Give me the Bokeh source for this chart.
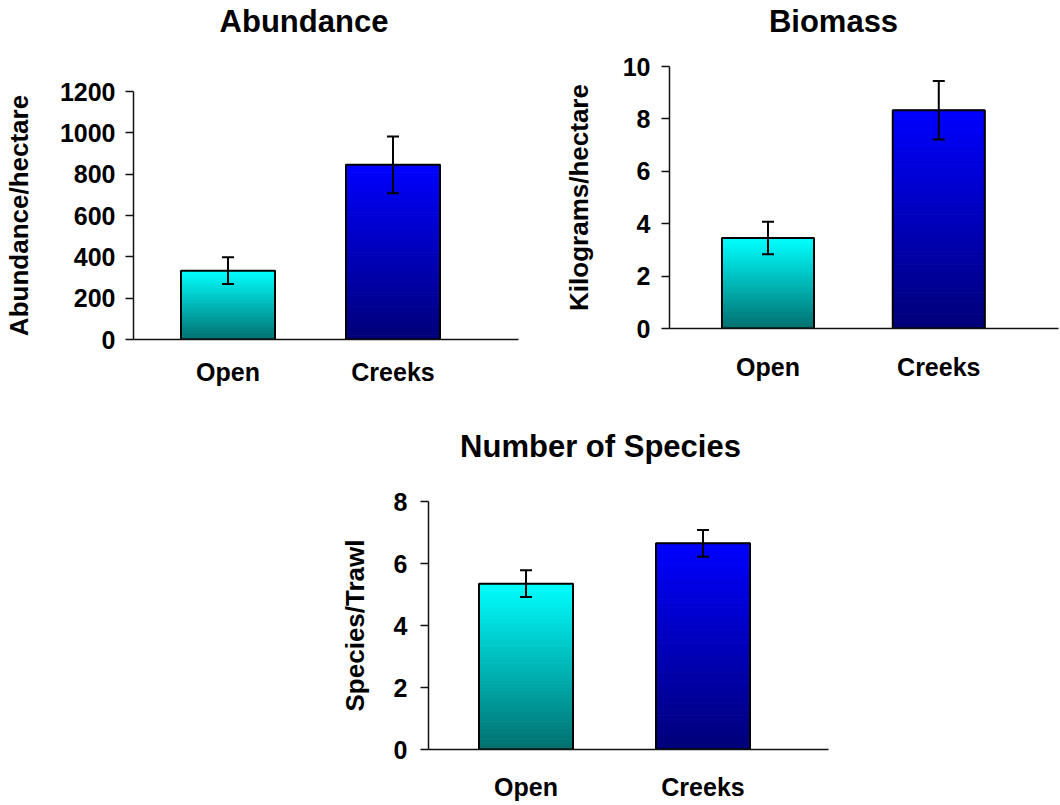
from bokeh.plotting import figure
from bokeh.models import ColumnDataSource, Whisker, TeeHead, FixedTicker, Label, Range1d, Spacer
from bokeh.layouts import column, row
from bokeh.embed import file_html
from bokeh.resources import INLINE

# ---- data ----
categories = ["Open", "Creeks"]

abundance_mean = [333, 845]
abundance_err = [65, 137]

biomass_mean = [3.45, 8.33]
biomass_err = [0.62, 1.12]

species_mean = [5.35, 6.65]
species_err = [0.43, 0.43]

abundance_ticks = [0, 200, 400, 600, 800, 1000, 1200]
biomass_ticks = [0, 2, 4, 6, 8, 10]
species_ticks = [0, 2, 4, 6, 8]

# ---- style ----
FONT = "Liberation Sans"
TOP_COLORS = [(0, 255, 255), (0, 0, 255)]
BOTTOM_COLORS = [(0, 110, 110), (0, 0, 120)]
N_SLICES = 48
AXIS_COLOR = "#111111"


def hexc(c):
    return "#%02x%02x%02x" % c


def make_title(text, *, width, height, cx, base):
    t = figure(width=width, height=height, output_backend="svg", toolbar_location=None,
               x_range=Range1d(0, 1), y_range=Range1d(0, 1), min_border=0)
    t.frame_align = False
    t.axis.visible = False
    t.grid.visible = False
    t.outline_line_color = None
    t.background_fill_color = "white"
    t.border_fill_color = "white"
    t.add_layout(Label(x=cx, y=base, x_units="screen", y_units="screen",
                       text=text, text_align="center", text_baseline="alphabetic",
                       text_font=FONT, text_font_style="bold", text_font_size="31px",
                       text_color="black"))
    return t


def make_chart(ylabel, means, errs, ticks, *, width, height, borders,
               x_start, x_end, bar_w, tick_standoff, cat_standoff, label_standoff):
    left, right, top, bottom = borders
    p = figure(width=width, height=height, output_backend="svg", toolbar_location=None,
               x_range=Range1d(x_start, x_end), y_range=Range1d(0, ticks[-1]),
               min_border_left=left, min_border_right=right,
               min_border_top=top, min_border_bottom=bottom)
    p.frame_align = False
    xs = list(range(1, len(categories) + 1))

    # gradient-filled bars built from thin slices of each bar
    lefts, rights, bots, tops, cols = [], [], [], [], []
    for i, (x, v) in enumerate(zip(xs, means)):
        for k in range(N_SLICES):
            t = (k + 0.5) / N_SLICES
            c = tuple(int(round(b + (tc - b) * t))
                      for b, tc in zip(BOTTOM_COLORS[i], TOP_COLORS[i]))
            lefts.append(x - bar_w / 2)
            rights.append(x + bar_w / 2)
            bots.append(v * k / N_SLICES)
            tops.append(v * (k + 1) / N_SLICES)
            cols.append(hexc(c))
    p.quad(left=lefts, right=rights, bottom=bots, top=tops,
           fill_color=cols, line_color=cols, line_width=1)
    p.quad(left=[x - bar_w / 2 for x in xs], right=[x + bar_w / 2 for x in xs],
           bottom=[0] * len(xs), top=means,
           fill_color=None, line_color="black", line_width=2)

    src = ColumnDataSource(dict(
        x=xs,
        upper=[m + e for m, e in zip(means, errs)],
        lower=[m - e for m, e in zip(means, errs)],
    ))
    w = Whisker(base="x", upper="upper", lower="lower", source=src, level="overlay",
                line_width=2, line_color="black",
                upper_head=TeeHead(size=12, line_width=2, line_color="black"),
                lower_head=TeeHead(size=12, line_width=2, line_color="black"))
    p.add_layout(w)

    # axes
    p.xaxis.ticker = FixedTicker(ticks=xs)
    p.xaxis.major_label_overrides = {x: c for x, c in zip(xs, categories)}
    p.xaxis.major_tick_line_color = None
    p.xaxis.minor_tick_line_color = None
    p.xaxis.axis_line_color = AXIS_COLOR
    p.xaxis.axis_line_width = 1.5
    p.xaxis.major_label_text_font = FONT
    p.xaxis.major_label_text_font_style = "bold"
    p.xaxis.major_label_text_font_size = "25px"
    p.xaxis.major_label_text_color = "black"
    p.xaxis.major_label_standoff = cat_standoff

    p.yaxis.ticker = FixedTicker(ticks=ticks)
    p.yaxis.major_tick_out = 8
    p.yaxis.major_tick_in = 0
    p.yaxis.major_tick_line_color = AXIS_COLOR
    p.yaxis.major_tick_line_width = 1.5
    p.yaxis.minor_tick_line_color = None
    p.yaxis.axis_line_color = AXIS_COLOR
    p.yaxis.axis_line_width = 1.5
    p.yaxis.major_label_text_font = FONT
    p.yaxis.major_label_text_font_style = "bold"
    p.yaxis.major_label_text_font_size = "25px"
    p.yaxis.major_label_text_color = "black"
    p.yaxis.major_label_standoff = tick_standoff
    p.yaxis.axis_label = ylabel
    p.yaxis.axis_label_text_font = FONT
    p.yaxis.axis_label_text_font_style = "bold"
    p.yaxis.axis_label_text_font_size = "26px"
    p.yaxis.axis_label_text_color = "black"
    p.yaxis.axis_label_standoff = label_standoff

    p.grid.visible = False
    p.outline_line_color = None
    p.background_fill_color = "white"
    p.border_fill_color = "white"
    return p


t1 = make_title("Abundance", width=540, height=60, cx=303.5, base=38.8)
p1 = make_chart("Abundance/hectare", abundance_mean, abundance_err, abundance_ticks,
                width=540, height=350, borders=(133, 22, 31, 71),
                x_start=0.4273, x_end=2.7606, bar_w=0.57,
                tick_standoff=10, cat_standoff=12, label_standoff=23)

t2 = make_title("Biomass", width=520, height=40, cx=293, base=18.8)
p2 = make_chart("Kilograms/hectare", biomass_mean, biomass_err, biomass_ticks,
                width=520, height=370, borders=(129, 2, 26, 82),
                x_start=0.4233, x_end=2.701, bar_w=0.539,
                tick_standoff=11, cat_standoff=18, label_standoff=26)

t3 = make_title("Number of Species", width=580, height=60, cx=300, base=24.5)
p3 = make_chart("Species/Trawl", species_mean, species_err, species_ticks,
                width=580, height=335, borders=(128, 52, 31, 56),
                x_start=0.449, x_end=2.709, bar_w=0.531,
                tick_standoff=13, cat_standoff=17, label_standoff=21)

layout = column(
    row(column(t1, p1), column(t2, p2)),
    row(Spacer(width=300, height=10), column(t3, p3)),
)

open("out.html", "w").write(file_html(layout, INLINE))
